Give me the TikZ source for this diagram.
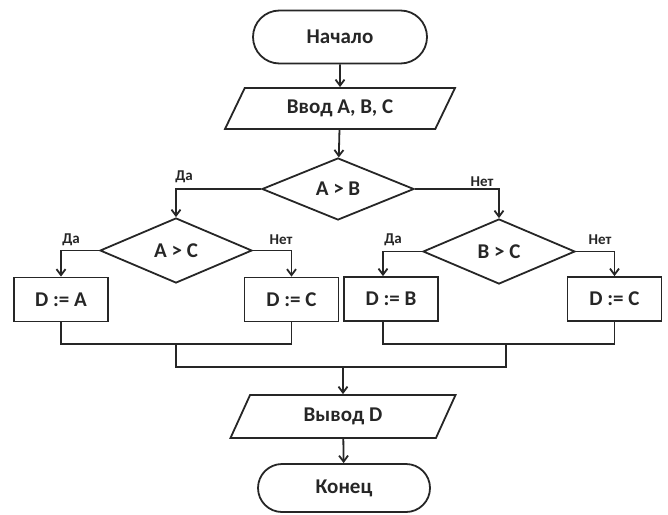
\documentclass[tikz,border=0pt]{standalone}
\usepackage{fontspec}
\setmainfont{Carlito}
\usetikzlibrary{shapes.geometric,shapes.misc,arrows.meta}
\begin{document}
\begin{tikzpicture}[x=1pt,y=-1pt,
 base/.style={draw=black!85, text=black!85, line width=1.8pt, font=\bfseries\fontsize{21}{24}\selectfont, inner sep=0pt},
 term/.style={base, rounded rectangle, minimum width=174pt, minimum height=53pt},
 io/.style={base, trapezium, trapezium left angle=41, trapezium right angle=139, trapezium stretches body=true, minimum width=230pt, minimum height=41pt},
 dec/.style={base, diamond, aspect=2.4, minimum width=152pt, minimum height=64pt},
 proc/.style={base, rectangle, minimum width=94pt, minimum height=44pt},
 lbl/.style={text=black!85, font=\bfseries\fontsize{15}{18}\selectfont, inner sep=0pt},
 arr/.style={draw=black!85, line width=1.8pt, -{Straight Barb[length=6pt,width=9pt,line width=1.8pt]}},
 ln/.style={draw=black!85, line width=1.8pt}]
\useasboundingbox (0,0) rectangle (668,514);

\node[term] (start) at (340,37) {Начало};
\node[io] (in) at (340,108.5) {Ввод A, B, C};
\node[dec, minimum height=62pt] (ab) at (338,189) {A > B};
\node[dec, minimum height=65pt] (ac) at (176,250.5) {A > C};
\node[dec, minimum height=65pt] (bc) at (499,251.5) {B > C};
\node[proc] (dA) at (61,299.5) {D := A};
\node[proc] (dC1) at (291.5,299.5) {D := C};
\node[proc] (dB) at (391,299) {D := B};
\node[proc] (dC2) at (614.5,299) {D := C};
\node[io, minimum width=225pt, minimum height=43pt] (out) at (343,416.5) {Вывод D};
\node[term, minimum width=172pt, minimum height=48pt] (end) at (344,488) {Конец};

\node[lbl] (l1) at (184,177) {Да};
\node[lbl] (l2) at (482,182) {Нет};
\node[lbl] (l3) at (71,240) {Да};
\node[lbl] (l4) at (281,240) {Нет};
\node[lbl] (l5) at (393,240) {Да};
\node[lbl] (l6) at (600,240) {Нет};

\coordinate (j1) at (176,344);
\coordinate (j2) at (506,344);
\coordinate (j3) at (343,367);

\draw[arr] (start) -- (in);
\draw[arr] (in) -- (ab);
\draw[arr] (ab.west) -| (ac.north);
\draw[arr] (ab.east) -| (bc.north);
\draw[arr] (ac.west) -| (dA.north);
\draw[arr] (ac.east) -| (dC1.north);
\draw[arr] (bc.west) -| ([xshift=-8pt]dB.north);
\draw[arr] (bc.east) -| (dC2.north);
\draw[ln] (dA.south) |- (j1) -| (dC1.south);
\draw[ln] ([xshift=-8pt]dB.south) |- (j2) -| (dC2.south);
\draw[ln] (j1) |- (j3) -| (j2);
\draw[arr] (j3) -- (out.north);
\draw[arr] (out) -- (end);
\end{tikzpicture}
\end{document}
